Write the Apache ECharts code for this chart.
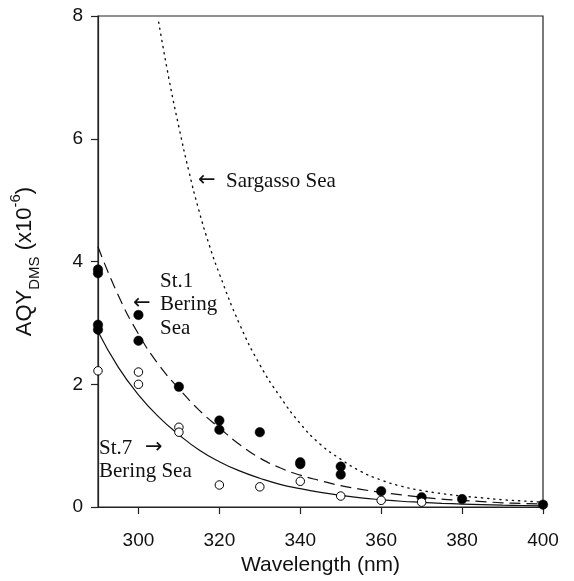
<!DOCTYPE html>
<html>
<head>
<meta charset="utf-8">
<script src="https://cdn.jsdelivr.net/npm/echarts@6/dist/echarts.min.js"></script>
<style>
  html, body { margin: 0; padding: 0; background: #fff; }
  #chart { width: 574px; height: 581px; }
</style>
</head>
<body>
<div id="chart"></div>
<script>
// tick values
var xTicks = [300, 320, 340, 360, 380, 400]
var yTicks = [0, 2, 4, 6, 8]

// measured points, filled circles (St.1 Bering Sea)
var st1X = [290, 290, 290, 290, 300, 300, 310, 320, 320, 330, 340, 340, 350, 350, 360, 370, 380, 400]
var st1Y = [3.87, 3.81, 2.97, 2.89, 3.13, 2.71, 1.96, 1.41, 1.26, 1.22, 0.73, 0.70, 0.66, 0.53, 0.26, 0.16, 0.13, 0.04]

// measured points, open circles (St.7 Bering Sea)
var st7X = [290, 300, 300, 310, 310, 320, 330, 340, 350, 360, 370]
var st7Y = [2.22, 2.20, 2.00, 1.30, 1.22, 0.36, 0.33, 0.42, 0.18, 0.11, 0.08]

// fitted curves
var fitX = [290, 295, 300, 305, 310, 315, 320, 325, 330, 335, 340, 345, 350, 355, 360, 365, 370, 375, 380, 385, 390, 395, 400]
var st1Fit = [4.24, 3.45, 2.82, 2.32, 1.93, 1.58, 1.29, 1.02, 0.80, 0.64, 0.52, 0.43, 0.35, 0.29, 0.24, 0.20, 0.16, 0.13, 0.11, 0.09, 0.07, 0.06, 0.05]
var st7Fit = [2.86, 2.28, 1.83, 1.47, 1.18, 0.93, 0.74, 0.59, 0.47, 0.37, 0.30, 0.24, 0.19, 0.15, 0.12, 0.095, 0.078, 0.062, 0.05, 0.04, 0.032, 0.026, 0.02]

var sargX = [305, 307.5, 310, 312.5, 315, 317.5, 320, 325, 330, 335, 340, 345, 350, 355, 360, 365, 370, 375, 380, 385, 390, 395, 400]
var sargY = [7.90, 6.99, 6.19, 5.46, 4.82, 4.27, 3.80, 2.98, 2.32, 1.80, 1.36, 1.02, 0.78, 0.58, 0.44, 0.34, 0.27, 0.22, 0.18, 0.15, 0.12, 0.10, 0.08]

function zip(xs, ys) {
  return xs.map(function (x, i) { return [x, ys[i]] })
}

var sans = 'Liberation Sans, Arial, sans-serif'
var serif = 'Liberation Serif, Times New Roman, serif'
var arrowFont = '21px DejaVu Sans'

function note(left, top, text, font) {
  return { type: 'text', left: left, top: top, style: { text: text, font: font || ('21px ' + serif), fill: '#111' } }
}

var chart = echarts.init(document.getElementById('chart'))

chart.setOption({
  backgroundColor: '#fff',
  animation: false,
  grid: {
    left: 93, right: 31, top: 16, bottom: 67,
    show: true, borderColor: '#222', borderWidth: 1.2
  },
  xAxis: {
    type: 'value',
    min: 290, max: 400,
    name: 'Wavelength (nm)',
    nameLocation: 'middle',
    nameGap: 47,
    nameTextStyle: { fontFamily: sans, fontSize: 21, color: '#111' },
    axisLine: { lineStyle: { color: '#222', width: 1.2 } },
    axisTick: { show: true, inside: false, length: 7, customValues: xTicks, lineStyle: { color: '#222', width: 1.2 } },
    axisLabel: { customValues: xTicks, margin: 24, fontFamily: sans, fontSize: 19, color: '#111' },
    splitLine: { show: false }
  },
  yAxis: {
    type: 'value',
    min: 0, max: 8, interval: 2,
    name: 'AQY{sub|DMS} (x10{sup|-6})',
    nameLocation: 'middle',
    nameRotate: 90,
    nameGap: 56,
    nameTextStyle: {
      fontFamily: sans, fontSize: 22, color: '#111', lineHeight: 34,
      rich: {
        sub: { fontFamily: sans, fontSize: 15, color: '#111', verticalAlign: 'bottom', lineHeight: 34 },
        sup: { fontFamily: sans, fontSize: 15, color: '#111', verticalAlign: 'top', lineHeight: 34 }
      }
    },
    axisLine: { show: true, lineStyle: { color: '#222', width: 1.2 } },
    axisTick: { show: true, inside: false, length: 7, lineStyle: { color: '#222', width: 1.2 } },
    axisLabel: { margin: 15, fontFamily: sans, fontSize: 19, color: '#111' },
    splitLine: { show: false }
  },
  series: [
    {
      name: 'Sargasso Sea',
      type: 'line',
      smooth: true,
      showSymbol: false,
      data: zip(sargX, sargY),
      lineStyle: { color: '#111', width: 1.4, type: [1.2, 5], cap: 'round' },
      z: 2
    },
    {
      name: 'St.1 fit',
      type: 'line',
      smooth: true,
      showSymbol: false,
      data: zip(fitX, st1Fit),
      lineStyle: { color: '#111', width: 1.2, type: [11, 6] },
      z: 2
    },
    {
      name: 'St.7 fit',
      type: 'line',
      smooth: true,
      showSymbol: false,
      data: zip(fitX, st7Fit),
      lineStyle: { color: '#111', width: 1.2, type: 'solid' },
      z: 2
    },
    {
      name: 'St.1',
      type: 'scatter',
      symbol: 'circle',
      symbolSize: 9.5,
      data: zip(st1X, st1Y),
      itemStyle: { color: '#000', borderColor: '#000', borderWidth: 0.5, opacity: 1 },
      z: 4
    },
    {
      name: 'St.7',
      type: 'scatter',
      symbol: 'circle',
      symbolSize: 8.5,
      data: zip(st7X, st7Y),
      itemStyle: { color: '#fff', borderColor: '#000', borderWidth: 1, opacity: 1 },
      z: 5
    }
  ],
  graphic: [
    note(198, 170, '\u2190', arrowFont),
    note(226, 171, 'Sargasso Sea'),
    note(160, 271, 'St.1'),
    note(133, 293, '\u2190', arrowFont),
    note(160, 294, 'Bering'),
    note(160, 318, 'Sea'),
    note(99, 438, 'St.7'),
    note(145, 437, '\u2192', arrowFont),
    note(99, 461, 'Bering Sea')
  ]
})
</script>
</body>
</html>
